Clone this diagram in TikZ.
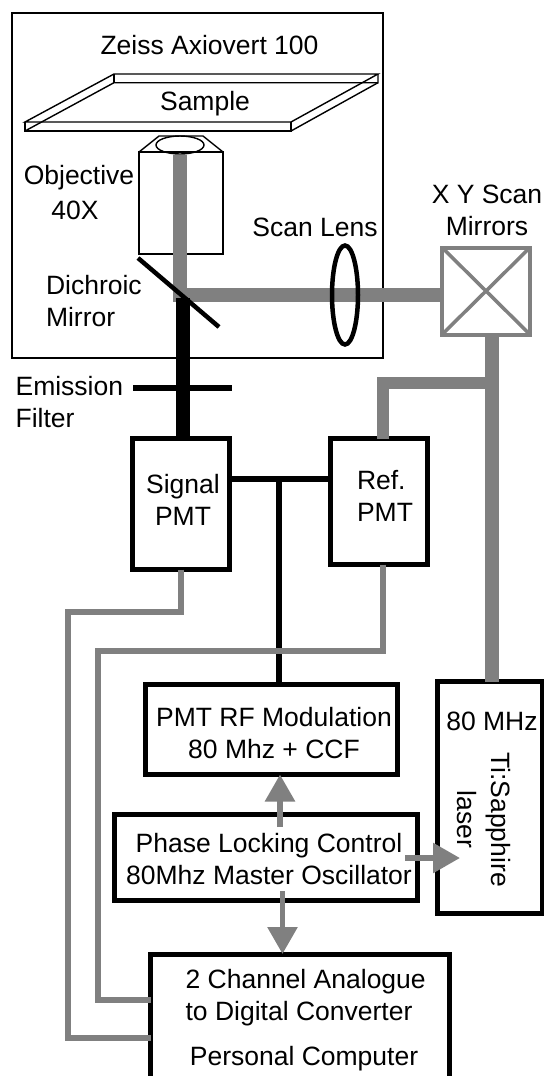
\documentclass[tikz,border=0pt]{standalone}
\usepackage{fontspec}
\setmainfont{Liberation Sans}
\usetikzlibrary{arrows.meta,shapes.geometric}
\definecolor{beamgray}{rgb}{0.5,0.5,0.5}
\begin{document}
\begin{tikzpicture}[x=1bp,y=-1bp,line join=miter,
    every node/.style={inner sep=0pt,outer sep=0pt,font=\fontsize{26.5bp}{32bp}\selectfont},
    label/.style={align=center},
    leftlabel/.style={align=left,anchor=west},
    unit/.style={draw=black,line width=5bp,fill=white,minimum width=#1},
    thin part/.style={draw=black,line width=1.4bp},
    widebeam/.style={draw=beamgray,line width=13.5bp},
    narrowbeam/.style={draw=beamgray,line width=5.8bp},
    emission/.style={draw=black,line width=14bp},
    rfline/.style={draw=black,line width=5.5bp},
    clock/.style={draw=beamgray,line width=5.8bp,-{Triangle[width=29bp,length=27bp]},shorten >=0pt}]
  \useasboundingbox (0,0) rectangle (544,1076);
  % Node: microscope
  \node [thin part,line width=1.6bp,minimum width=371bp,minimum height=345bp] (scope) at (197.5,185.5) {};
  \node [label] (scopename) at (209.5,45) {Zeiss Axiovert 100};
  % Node: sample
  \draw [thin part] (25,122) -- (114,74) -- (378,74) -- (291,122) -- cycle;
  \draw [thin part] (25,122) -- (25,131) -- (291,131) -- (291,122);
  \draw [thin part] (25,131) -- (114,82.7) -- (378,82.7) -- (378,74);
  \draw [thin part] (291,131) -- (378,82.7);
  \draw [thin part] (114,74) -- (114,82.7);
  \node [label] (samplename) at (205,104) {Sample};
  % Node: objective
  \node [thin part,minimum width=84bp,minimum height=102bp] (objective) at (181,203) {};
  \draw [thin part] (objective.north west) -- (159,136) -- (203,136) -- (objective.north east);
  \node [thin part,ellipse,minimum width=48bp,minimum height=18bp] (front) at (180,145) {};
  \node [label] (objectivename) at (79,178) {Objective};
  \node [label] (power) at (75,210) {40X};
  \coordinate (turn) at (180,295);
  \coordinate (beamtop) at (180,155);
  \coordinate (emit) at (183,298);
  % Node: scan mirrors
  \node [draw=beamgray,line width=4bp,fill=white,minimum width=88bp,minimum height=87bp] (mirrors) at (486,291) {};
  \draw [draw=beamgray,line width=3.5bp] (mirrors.north west) -- (mirrors.south east);
  \draw [draw=beamgray,line width=3.5bp] (mirrors.north east) -- (mirrors.south west);
  \node [label] (mirrorsname) at (487,210) {X Y Scan\\Mirrors};
  % Node: PMTs
  \node [unit=97bp,minimum height=131bp] (signal) at (181.3,504) {};
  \node [unit=97bp,minimum height=126bp] (ref) at (378.5,501.5) {};
  % Node: units
  \node [unit=252bp,minimum height=90bp] (modulation) at (271.5,729.5) {};
  \node [unit=105bp,minimum height=232bp] (laser) at (489.5,797.5) {};
  \node [unit=303bp,minimum height=86bp] (locking) at (266,857.5) {};
  \node [unit=299bp,minimum height=126bp] (converter) at (300.3,1017) {};
  % Edge: scan mirrors -> objective
  \draw [widebeam] (mirrors.west |- turn) -- (turn) -- (beamtop);
  % Node: scan lens
  \node [draw=black,line width=4.5bp,ellipse,minimum width=26bp,minimum height=99bp] (lens) at (345,295) {};
  \node [label] (lensname) at (315,227) {Scan Lens};
  % Edge: sample -> signal PMT
  \draw [emission] (emit) -- (emit |- signal.north);
  \node [leftlabel] (mirrorname) at (46,301) {Dichroic\\Mirror};
  \coordinate (dichroicup) at (138,258);
  \coordinate (dichroicdown) at (219,327);
  \draw [draw=black,line width=4.5bp] (dichroicup) -- (dichroicdown);
  % Node: emission filter
  \coordinate (filterleft) at (133,388);
  \coordinate (filterright) at (232,388);
  \draw [draw=black,line width=6bp] (filterleft) -- (filterright);
  \node [leftlabel] (filtername) at (15.6,402) {Emission\\Filter};
  % Edge: laser -> scan mirrors and ref PMT
  \coordinate (fork) at (492,382.5);
  \coordinate (refbend) at (383,382.5);
  \draw [widebeam] (laser.north -| fork) -- (mirrors.south -| fork);
  \draw [widebeam,line width=12bp] (fork) -- (refbend) -- (refbend |- ref.north);
  % Edge: PMTs <-> modulation
  \coordinate (join) at (279,479);
  \draw [rfline,line width=6bp] (signal.east |- join) -- (ref.west |- join);
  \draw [rfline] (join) -- (join |- modulation.north);
  % Edge: signal PMT -> converter
  \coordinate (signalbend) at (181,612);
  \coordinate (signalside) at (68,612);
  \coordinate (signalin) at (68,1037.7);
  \draw [narrowbeam] (signal.south -| signalbend) -- (signalbend) -- (signalside) -- (signalin) -- (converter.west |- signalin);
  % Edge: ref PMT -> converter
  \coordinate (refout) at (383,650.7);
  \coordinate (refside) at (98,650.7);
  \coordinate (refin) at (98,999.7);
  \draw [narrowbeam] (ref.south -| refout) -- (refout) -- (refside) -- (refin) -- (converter.west |- refin);
  % Node: unit texts
  \node [label] (signalname) at (183,499.5) {Signal\\PMT};
  \node [leftlabel] (refname) at (357,496) {Ref.\\PMT};
  \node [label] (modulationname) at (274,733) {PMT RF Modulation\\80 Mhz + CCF};
  \node [label] (lasername) at (492,721) {80 MHz};
  \node [label,rotate=-90] (lasertype) at (483.5,819.5) {Ti:Sapphire\\[2bp]laser};
  \node [label] (lockingname) at (269,859) {Phase Locking Control\\80Mhz Master Oscillator};
  \node [leftlabel] (convertername) at (185.6,998) {2 Channel Analogue\\to Digital Converter};
  \node [label] (computername) at (304,1059) {Personal Computer};
  % Edge: locking -> modulation, laser, converter
  \coordinate (upstart) at (280,827);
  \coordinate (rightstart) at (405,858);
  \coordinate (rightend) at (460,858);
  \coordinate (downstart) at (282.5,891);
  \draw [clock] (upstart) -- (upstart |- modulation.south);
  \draw [clock] (rightstart) -- (rightend);
  \draw [clock] (downstart) -- (downstart |- converter.north);
\end{tikzpicture}
\end{document}
